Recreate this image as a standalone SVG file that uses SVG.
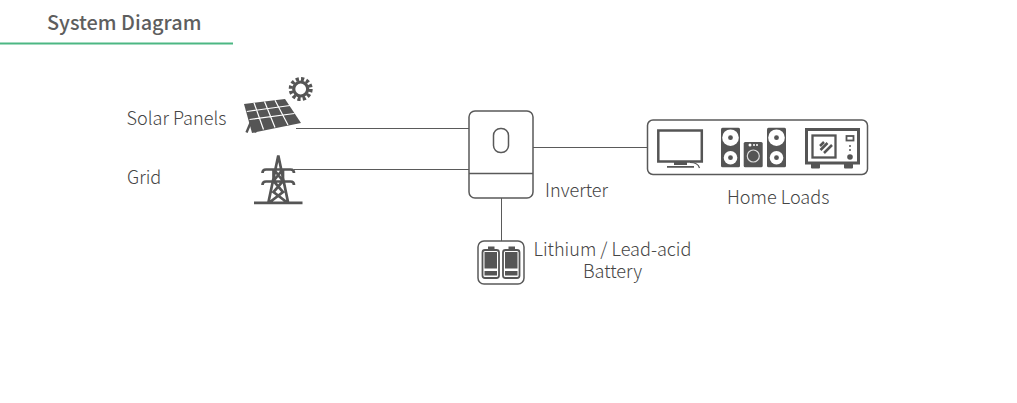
<svg xmlns="http://www.w3.org/2000/svg" width="1017" height="403" viewBox="0 0 1017 403">
<style>
.t{font-family:"Noto Sans CJK SC","Noto Sans",sans-serif;font-size:18.1px;font-weight:300;fill:#454545}
.h{font-family:"Noto Sans CJK SC","Noto Sans",sans-serif;font-size:19.9px;font-weight:500;fill:#5e5e5e}
.l{fill:none;stroke:#5a5a5a;stroke-width:1}
.o{fill:none;stroke:#595959;stroke-width:1.5}
.d{fill:#555}
.w{fill:#fff}
.s{fill:none;stroke:#555}
</style>
<rect width="1017" height="403" fill="#fff"/>
<g id="title"><text class="h" x="47" y="30">System Diagram</text><rect x="0" y="42.500" width="233" height="2" fill="#4cb783"/></g>
<g id="connectors">
<path class="l" d="M296 128.500H469M294 169.500H469M533 147.500H648M501.500 198V241"/>
</g>
<g id="solar">
<path class="s" stroke-width="2.400" d="M253 117L246.500 132.500M252 121L256 132.500"/>
<path class="d" d="M244 104L285 99L301 123L252 133Z"/>
<g stroke="#fff" stroke-width="1.200"><path d="M254 102.800L263.500 129.500M264.500 101.500L275 127.500M275 100.300L288 125M246.800 111.500L290 105.500M249.500 119.500L294.500 113.500"/></g>
<g transform="translate(300.700 89)"><circle r="7" fill="none" stroke="#555" stroke-width="3.200"/><circle r="10" fill="none" stroke="#555" stroke-width="4" stroke-dasharray="3.100 2.140"/></g>
<text class="t" x="126.500" y="125">Solar Panels</text>
</g>
<g id="grid">
<path class="s" stroke-width="2.700" fill="none" d="M254 202.800H302.500M268.500 202L278.300 155.500L288 202M273.500 169V181L283 192L270 202M283 169V181L273.500 192L286.500 202M273.500 169L283 181M283 169L273.500 181M262.500 173Q262.500 169.500 266 169.500H290.500Q294 169.500 294 173M262.500 185Q262.500 181.500 266 181.500H290.500Q294 181.500 294 185"/>
<text class="t" x="127" y="184">Grid</text>
</g>
<g id="inverter">
<rect class="o" x="469" y="111" width="64" height="87" rx="6"/>
<path class="o" d="M469 173.500H533" stroke-width="1.200"/>
<rect class="o" x="493.500" y="128.500" width="15" height="24" rx="7" stroke-width="1.200"/>
<text class="t" x="545" y="197">Inverter</text>
</g>
<g id="battery">
<rect class="o" x="478" y="241" width="46" height="43" rx="6" stroke-width="1.100"/>
<g id="cells">
<rect class="s" x="482.500" y="250" width="16.500" height="28" rx="2.500" stroke-width="1.800"/>
<rect class="s" x="503" y="250" width="16.500" height="28" rx="2.500" stroke-width="1.800"/>
<path class="d" d="M488 246.500h6.500v3h-6.500zM508.500 246.500h6.500v3h-6.500zM484.500 252h12.500v16.500h-12.500zM505 252h12.500v16.500h-12.500zM484.500 271h12.500v4.500h-12.500zM505 271h12.500v4.500h-12.500z"/>
</g>
<text class="t" text-anchor="middle"><tspan x="612.500" y="256">Lithium / Lead-acid</tspan><tspan x="612.500" y="278">Battery</tspan></text>
</g>
<g id="home-loads">
<rect class="o" x="647.500" y="120" width="220" height="54.500" rx="5.500" stroke-width="1.100"/>
<rect class="s" x="658.300" y="130.500" width="43.500" height="31" stroke-width="2.500"/>
<path class="d" d="M674 162h13v3h-13zM667 166h27v1.800h-27z"/>
<path class="s" d="M690 162.500Q698 162.500 699.500 168" stroke-width="1.200"/>
<g id="speakers">
<rect class="d" x="721" y="127.700" width="19" height="39.500" rx="1.500"/>
<rect class="d" x="767" y="127.700" width="19" height="39.500" rx="1.500"/>
<rect class="d" x="743.700" y="142" width="19" height="25.200" rx="1.500"/>
<g class="w"><circle cx="730.500" cy="137.700" r="8.300"/><circle cx="730.500" cy="157.700" r="6.800"/><circle cx="776.500" cy="137.700" r="8.300"/><circle cx="776.500" cy="157.700" r="6.800"/><circle cx="750" cy="145" r="1.500"/><circle cx="754" cy="145" r="1"/><circle cx="757" cy="145" r="1"/></g>
<g class="d"><circle cx="730.500" cy="137.700" r="2.400"/><circle cx="730.500" cy="157.700" r="2.400"/><circle cx="776.500" cy="137.700" r="2.400"/><circle cx="776.500" cy="157.700" r="2.400"/></g>
<circle cx="753.300" cy="156" r="6" fill="none" stroke="#ddd" stroke-width="1.200"/>
</g>
<g id="microwave">
<rect class="s" x="806.500" y="129.500" width="52" height="33.500" stroke-width="3"/>
<path class="d" d="M811 164h9v3.500q0 1-1 1h-7q-1 0-1-1zM844 164h9v3.500q0 1-1 1h-7q-1 0-1-1z"/>
<rect class="s" x="812.500" y="135.500" width="23" height="22" stroke-width="2.300"/>
<path class="s" d="M820.500 150L827.500 143M824 153L832 145M820 146L824 142" stroke-width="2.500"/>
<rect class="s" x="846.500" y="136" width="7" height="4.500" stroke-width="1.800"/>
<circle class="d" cx="850" cy="146" r="1"/><circle class="d" cx="850" cy="150" r="1"/><circle class="d" cx="850" cy="157" r="2.800"/>
</g>
<text class="t" x="727" y="204">Home Loads</text>
</g>
</svg>
